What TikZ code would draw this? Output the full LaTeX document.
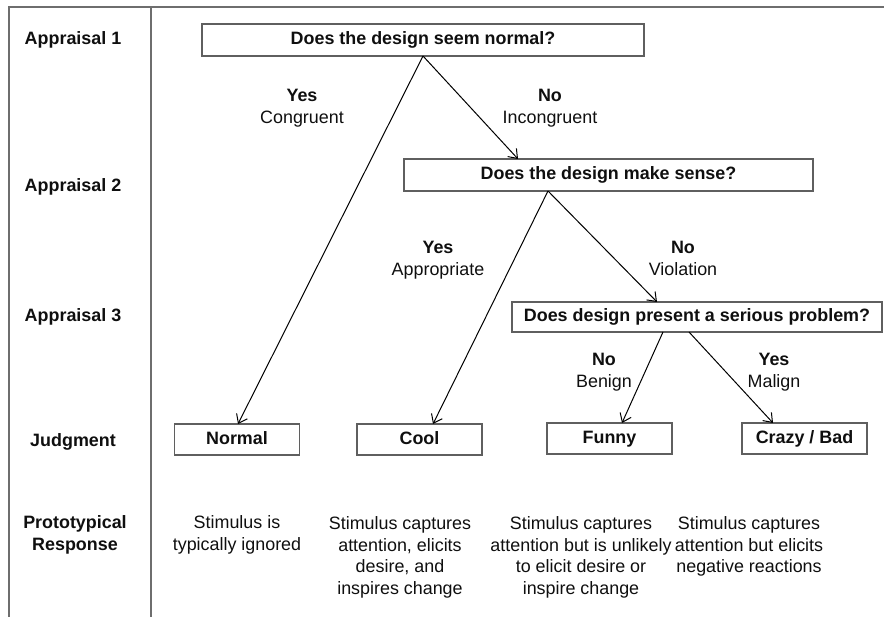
\documentclass[tikz,border=0pt]{standalone}
\usepackage{fontspec}
\setmainfont{Liberation Sans}
\usetikzlibrary{arrows.meta}
\definecolor{framec}{RGB}{110,110,110}
\definecolor{boxc}{RGB}{95,95,95}
\definecolor{txtc}{RGB}{15,15,15}
\begin{document}
\begin{tikzpicture}[x=1pt,y=-1pt,
  every node/.style={inner sep=0pt,outer sep=0pt,text=txtc,font=\fontsize{17.9}{22}\selectfont},
  qbox/.style={draw=boxc,line width=1.1pt,font=\fontsize{17.9}{22}\selectfont\bfseries,minimum height=32pt,text height=12.9pt,text depth=3.8pt},
  jbox/.style={draw=boxc,line width=1.1pt,font=\fontsize{17.9}{22}\selectfont\bfseries,minimum width=125pt,minimum height=31pt,text height=12.9pt,text depth=3.8pt},
  rowlabel/.style={font=\fontsize{17.9}{22}\selectfont\bfseries,align=center},
  branch/.style={align=center,anchor=north},
  resp/.style={align=center,anchor=north,font=\fontsize{17.9}{21.7}\selectfont},
  conn/.style={draw=black,line width=1pt,-{Straight Barb[length=8pt,width=12pt,line width=1pt]}},
  frame/.style={draw=framec,line width=1.6pt}
]
\useasboundingbox (0,0) rectangle (884,617);
% frame
\coordinate (ftl) at (9,7);
\coordinate (ftr) at (884,7);
\coordinate (fbl) at (9,617);
\coordinate (dtop) at (151,7);
\coordinate (dbot) at (151,617);
\draw[frame] (fbl) -- (ftl) -- (ftr);
\draw[frame] (dtop) -- (dbot);

% row labels
\node[rowlabel] (ap1) at (73,40) {Appraisal 1};
\node[rowlabel] (ap2) at (73,187) {Appraisal 2};
\node[rowlabel] (ap3) at (73,317) {Appraisal 3};
\node[rowlabel] (jud) at (73,442) {Judgment};
\node[rowlabel,anchor=north] (pro) at (75,515.5) {Prototypical\\Response};

% question boxes
\node[qbox,minimum width=442pt] (b1) at (423,40) {Does the design seem normal?};
\node[qbox,minimum width=409pt] (b2) at (608.5,175) {Does the design make sense?};
\node[qbox,minimum width=370pt,minimum height=30pt] (b3) at (697,317) {Does design present a serious problem?};

% judgment boxes
\node[jbox] (normal) at (237,439.5) {Normal};
\node[jbox] (cool) at (419.5,439.5) {Cool};
\node[jbox] (funny) at (609.5,438.5) {Funny};
\node[jbox] (crazy) at (804.5,438.5) {Crazy / Bad};

% connectors
\draw[conn] (b1.south) -- ([xshift=1pt]normal.north);
\draw[conn] (b1.south) -- ([xshift=-90.5pt]b2.north);
\draw[conn] ([xshift=-60.5pt]b2.south) -- ([xshift=13.5pt]cool.north);
\draw[conn] ([xshift=-60.5pt]b2.south) -- ([xshift=-40pt]b3.north);
\draw[conn] ([xshift=-34pt]b3.south) -- ([xshift=12.5pt]funny.north);
\draw[conn] ([xshift=-8pt]b3.south) -- ([xshift=-31.5pt]crazy.north);

% branch labels
\node[branch] (l1) at (302,88.7) {\textbf{Yes}\\Congruent};
\node[branch] (l2) at (550,88.7) {\textbf{No}\\Incongruent};
\node[branch] (l3) at (438,241.5) {\textbf{Yes}\\Appropriate};
\node[branch] (l4) at (683,241.5) {\textbf{No}\\Violation};
\node[branch] (l5) at (604,353.5) {\textbf{No}\\Benign};
\node[branch] (l6) at (774,353.5) {\textbf{Yes}\\Malign};

% responses
\node[resp] (r1) at (237,515.5) {Stimulus is\\typically ignored};
\node[resp] (r2) at (400,516.5) {Stimulus captures\\attention, elicits\\desire, and\\inspires change};
\node[resp] (r3) at (581,516.5) {Stimulus captures\\attention but is unlikely\\to elicit desire or\\inspire change};
\node[resp] (r4) at (749,516.5) {Stimulus captures\\attention but elicits\\negative reactions};
\end{tikzpicture}
\end{document}
